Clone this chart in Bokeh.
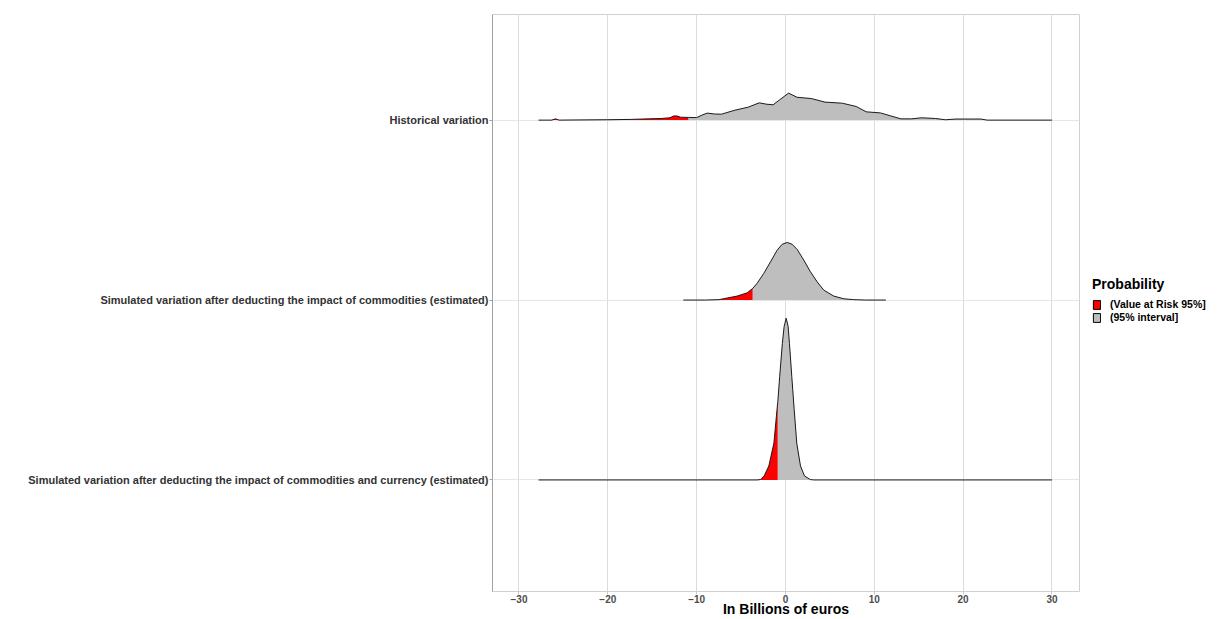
import numpy as np
from bokeh.plotting import figure
from bokeh.layouts import row
from bokeh.models import FixedTicker, Legend, LegendItem, Range1d, ColumnDataSource
from bokeh.embed import file_html
from bokeh.resources import INLINE

# ---------------- data ----------------
categories = [
    "Simulated variation after deducting the impact of commodities and currency (estimated)",
    "Simulated variation after deducting the impact of commodities (estimated)",
    "Historical variation",
]
x_ticks = [-30, -20, -10, 0, 10, 20, 30]
legend_labels = ["(Value at Risk 95%]", "(95% interval]"]
x_title = "In Billions of euros"
legend_title = "Probability"

# density heights, in units of the spacing between ridges
hist_x = [-27.8, -26.3, -25.9, -25.5, -20.0, -17.4, -15.4, -14.0, -13.0, -12.6, -12.2, -11.8,
          -10.9, -10.0, -9.3, -8.8, -8.0, -7.2, -5.7, -4.2, -2.95, -2.2, -1.4, -0.7, 0.35,
          1.3, 2.9, 4.45, 6.4, 7.95, 9.1, 10.7, 11.8, 13.0, 14.2, 15.3, 16.9, 18.0, 19.2,
          22.0, 22.7, 30.0]
hist_h = [0.0, 0.0, 0.007, 0.0, 0.002, 0.004, 0.007, 0.009, 0.013, 0.023, 0.023, 0.016,
          0.015, 0.014, 0.030, 0.039, 0.034, 0.033, 0.055, 0.072, 0.096, 0.089, 0.085, 0.111, 0.150,
          0.127, 0.120, 0.100, 0.094, 0.076, 0.046, 0.040, 0.024, 0.007, 0.007, 0.013, 0.009, 0.002, 0.006,
          0.006, 0.0, 0.0]
hist_var = -10.9

comm_x = [-11.5, -9.0, -7.5, -5.44, -4.31, -3.68, -3.19, -2.44, -1.69, -0.94, -0.37, 0.19,
          0.75, 1.32, 2.06, 2.81, 3.57, 4.31, 5.44, 6.56, 7.69, 9.0, 11.3]
comm_h = [0.0, 0.0, 0.002, 0.022, 0.040, 0.065, 0.093, 0.148, 0.212, 0.277, 0.310, 0.320,
          0.310, 0.281, 0.222, 0.157, 0.101, 0.055, 0.022, 0.007, 0.002, 0.0, 0.0]
comm_var = -3.68

curr_x = [-27.8, -3.2, -2.8, -2.4, -1.87, -1.3, -0.95, -0.86, -0.65, -0.35, -0.15, 0.08,
          0.3, 0.45, 0.71, 0.98, 1.27, 1.69, 2.14, 2.81, 3.2, 30.0]
curr_h = [0.0, 0.0, 0.002, 0.022, 0.078, 0.205, 0.392, 0.435, 0.576, 0.759, 0.853, 0.899,
          0.853, 0.759, 0.576, 0.392, 0.205, 0.078, 0.022, 0.002, 0.0, 0.0]
curr_var = -0.86

series = [(curr_x, curr_h, curr_var), (comm_x, comm_h, comm_var), (hist_x, hist_h, hist_var)]

# ---------------- style ----------------
FONT = "Liberation Sans"
RED = "#FF0000"
GREY = "#BEBEBE"

p = figure(width=1080, height=619, output_backend="svg", toolbar_location=None,
           x_range=Range1d(-32.98, 33.10), y_range=Range1d(0.38, 3.587),
           min_border_left=492, min_border_right=1, min_border_top=14, min_border_bottom=10)
p.background_fill_color = "white"
p.border_fill_color = "white"
p.outline_line_color = "#d0d0d0"

for i, (xs, hs, var) in enumerate(series):
    base = i + 1
    xs = np.array(xs, dtype=float)
    hs = np.array(hs, dtype=float)
    left = xs <= var
    right = xs >= var
    p.varea(x=xs[left], y1=np.full(left.sum(), base), y2=base + hs[left], fill_color=RED)
    p.varea(x=xs[right], y1=np.full(right.sum(), base), y2=base + hs[right], fill_color=GREY)
    p.line(xs, base + hs, line_color="#1a1a1a", line_width=1)

# axes
p.xaxis.ticker = FixedTicker(ticks=x_ticks)
p.xaxis.axis_label = x_title
p.xaxis.axis_label_text_font = FONT
p.xaxis.axis_label_text_font_style = "bold"
p.xaxis.axis_label_text_font_size = "14px"
p.xaxis.axis_label_text_color = "black"
p.xaxis.axis_label_standoff = -5
p.xaxis.major_label_text_font = FONT
p.xaxis.major_label_text_font_style = "bold"
p.xaxis.major_label_text_font_size = "10px"
p.xaxis.major_label_text_color = "#4d4d4d"
p.xaxis.major_label_standoff = 0
p.xaxis.axis_line_color = None
p.xaxis.major_tick_line_color = "#cccccc"
p.xaxis.major_tick_in = 0
p.xaxis.major_tick_out = 3
p.xaxis.minor_tick_line_color = None

p.yaxis.ticker = FixedTicker(ticks=[1, 2, 3])
p.yaxis.major_label_overrides = {1: categories[0], 2: categories[1], 3: categories[2]}
p.yaxis.major_label_text_font = FONT
p.yaxis.major_label_text_font_style = "bold"
p.yaxis.major_label_text_font_size = "11px"
p.yaxis.major_label_text_color = "#333333"
p.yaxis.major_label_standoff = 1
p.yaxis.axis_line_color = "#a0a0a0"
p.yaxis.major_tick_line_color = "#a0a0a0"
p.yaxis.major_tick_in = 0
p.yaxis.major_tick_out = 3
p.yaxis.minor_tick_line_color = None

p.xgrid.grid_line_color = "#dcdcdc"
p.ygrid.grid_line_color = "#e6e6e6"

# ---------------- legend panel ----------------
lg = figure(width=137, height=619, output_backend="svg", toolbar_location=None,
            x_axis_location=None, y_axis_location=None,
            min_border_left=0, min_border_right=0, min_border_top=0, min_border_bottom=0)
lg.outline_line_color = None
lg.xgrid.visible = False
lg.ygrid.visible = False
lg.background_fill_color = "white"
lg.border_fill_color = "white"

key_src = ColumnDataSource(dict(l=[np.nan], r=[np.nan], t=[np.nan], b=[np.nan]))
k1 = lg.quad(left="l", right="r", top="t", bottom="b", source=key_src, fill_color=RED, line_color="black")
k2 = lg.quad(left="l", right="r", top="t", bottom="b", source=key_src, fill_color=GREY, line_color="black")

legend = Legend(items=[LegendItem(label=legend_labels[0], renderers=[k1]),
                       LegendItem(label=legend_labels[1], renderers=[k2])],
                location=(12, 268), title=legend_title,
                title_text_font=FONT, title_text_font_style="bold", title_text_font_size="14px",
                title_text_color="black", title_standoff=6,
                label_text_font=FONT, label_text_font_style="bold", label_text_font_size="10.5px",
                label_text_color="black", label_standoff=9, label_height=11,
                glyph_width=9, glyph_height=11, spacing=1, padding=0, margin=0,
                border_line_color=None, background_fill_alpha=0)
lg.add_layout(legend, "center")

layout = row(p, lg)
open("out.html", "w").write(file_html(layout, INLINE))
